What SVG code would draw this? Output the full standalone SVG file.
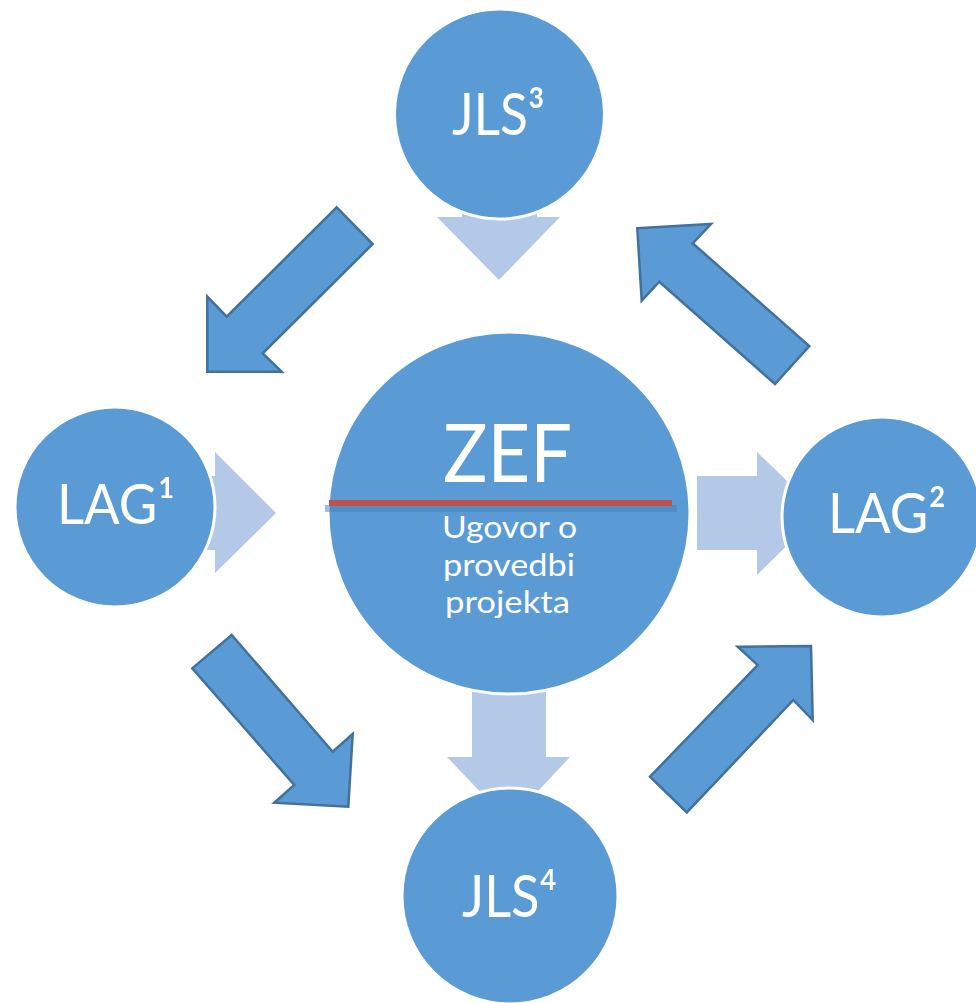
<svg xmlns="http://www.w3.org/2000/svg" width="976" height="1003" viewBox="0 0 976 1003">
<defs>
<style>
.light{fill:#b4c9e7;stroke:none}
.dark{fill:#5b9bd5;stroke:#41719c;stroke-width:2.5;stroke-linejoin:miter}
.node{fill:#5b9bd5;stroke:#ffffff;stroke-width:3}
.t{fill:#ffffff;font-family:Lato,"Open Sans","Liberation Sans",sans-serif;text-anchor:middle}
</style>
</defs>
<rect width="976" height="1003" fill="#ffffff"/>
<g id="connectors">
<polygon class="light" points="462,150 537,150 537,217 560,217 499,280 437,217 462,217"/>
<polygon class="light" points="120,476 215,476 215,452 276,513 215,573 215,550 120,550"/>
<polygon class="light" points="697,476 757,476 757,452 820,513 757,575 757,550 697,550"/>
<polygon class="light" points="472,650 546,650 546,757 570,757 509,822 447,757 472,757"/>
<polygon class="dark" points="336.7,207.3 372.7,244 262.7,353.3 281.7,371.7 207.3,371.7 207.3,296.7 226.7,316.7"/>
<polygon class="dark" points="637.3,228.3 711,224 692.7,243.3 809.3,346 775,384 659.3,281.7 641.7,300.7"/>
<polygon class="dark" points="231.7,635 192.3,668.3 294.3,785 274.3,802.7 348.3,806.7 352.7,734 332.7,751.7"/>
<polygon class="dark" points="737.7,646.7 811,646 812.7,720 793.3,700 686.8,812.4 650,776.7 757.7,665"/>
</g>
<g id="node-jls3">
<circle class="node" cx="499.5" cy="114" r="105"/>
<text class="t" x="498.5" y="135" font-size="58" textLength="93" lengthAdjust="spacingAndGlyphs">JLS³</text>
</g>
<g id="node-lag1">
<circle class="node" cx="115" cy="507" r="100"/>
<text class="t" x="116" y="524" font-size="57" textLength="118" lengthAdjust="spacingAndGlyphs">LAG¹</text>
</g>
<g id="node-lag2">
<circle class="node" cx="882" cy="517" r="100"/>
<text class="t" x="887" y="533" font-size="57" textLength="118" lengthAdjust="spacingAndGlyphs">LAG²</text>
</g>
<g id="node-jls4">
<circle class="node" cx="510" cy="896" r="108"/>
<text class="t" x="509.5" y="917" font-size="58" textLength="95" lengthAdjust="spacingAndGlyphs">JLS⁴</text>
</g>
<g id="node-zef">
<circle class="node" cx="509" cy="513" r="181"/>
<text class="t" x="507.5" y="482" font-size="82" textLength="129" lengthAdjust="spacingAndGlyphs">ZEF</text>
<rect x="325" y="505" width="352" height="7" fill="#4a7db4" opacity="0.5"/>
<rect x="329" y="500" width="343" height="6" fill="#c0504d"/>
<text class="t" x="509.5" y="538" font-size="31" textLength="135" lengthAdjust="spacingAndGlyphs">Ugovor o</text>
<text class="t" x="509" y="576" font-size="31" textLength="132" lengthAdjust="spacingAndGlyphs">provedbi</text>
<text class="t" x="507.5" y="613" font-size="31" textLength="125" lengthAdjust="spacingAndGlyphs">projekta</text>
</g>
</svg>
